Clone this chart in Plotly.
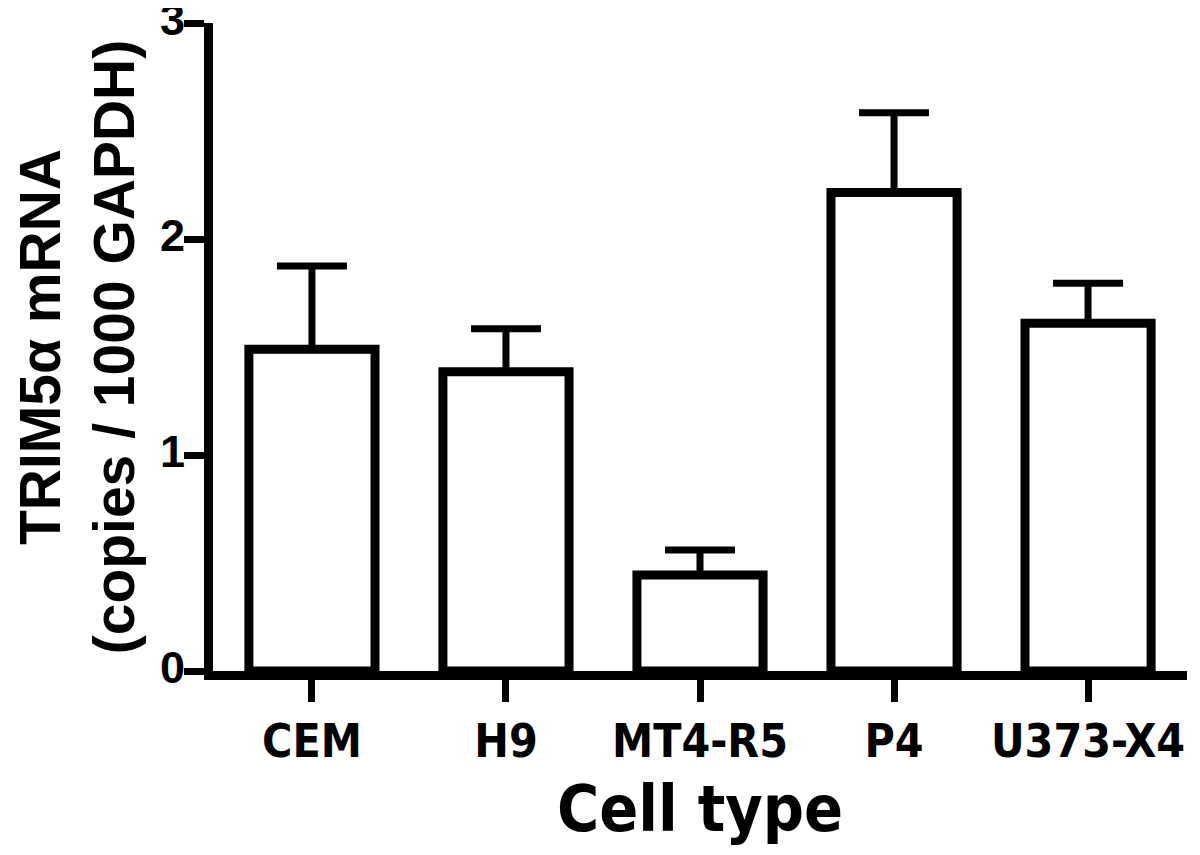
import plotly.graph_objects as go

categories = ["CEM", "H9", "MT4-R5", "P4", "U373-X4"]
means = [1.49, 1.385, 0.445, 2.215, 1.61]
errors = [0.385, 0.20, 0.115, 0.37, 0.185]
y_ticks = [0, 1, 2, 3]

NARROW = "Liberation Sans Narrow, DejaVu Sans Condensed, Arial Narrow, sans-serif"

fig = go.Figure()
fig.add_trace(go.Bar(
    x=categories,
    y=means,
    width=0.65,
    marker=dict(color="white", line=dict(color="black", width=9)),
    error_y=dict(type="data", symmetric=False, array=errors,
                 arrayminus=[0] * len(errors),
                 color="black", thickness=7, width=35),
    showlegend=False,
))

fig.update_layout(
    width=1192, height=847,
    margin=dict(l=205, r=13, t=15, b=184),
    paper_bgcolor="white", plot_bgcolor="white",
    xaxis=dict(
        range=[-0.51, 4.51],
        automargin=False,
        showline=True, linecolor="black", linewidth=9,
        ticks="outside", ticklen=22, tickwidth=7, tickcolor="black",
        tickfont=dict(family=NARROW, size=46, color="black", weight="bold"),
        showgrid=False, zeroline=False,
        title=dict(text="Cell type", standoff=22,
                   font=dict(family=NARROW, size=64, color="black", weight="bold")),
    ),
    yaxis=dict(
        range=[0, 3],
        automargin=False,
        tickvals=y_ticks,
        ticklabeloverflow="allow",
        ticklabelstandoff=-10,
        ticklabelshift=-4,
        showline=True, linecolor="black", linewidth=9,
        ticks="outside", ticklen=20, tickwidth=7, tickcolor="black",
        tickfont=dict(family="Liberation Sans", size=45, color="black", weight="bold"),
        showgrid=False, zeroline=False,
        title=dict(text="TRIM5α mRNA<br>(copies / 1000 GAPDH)", standoff=14,
                   font=dict(family="Liberation Sans", size=57, color="black", weight="bold")),
    ),
)

fig.write_html("out.html")
